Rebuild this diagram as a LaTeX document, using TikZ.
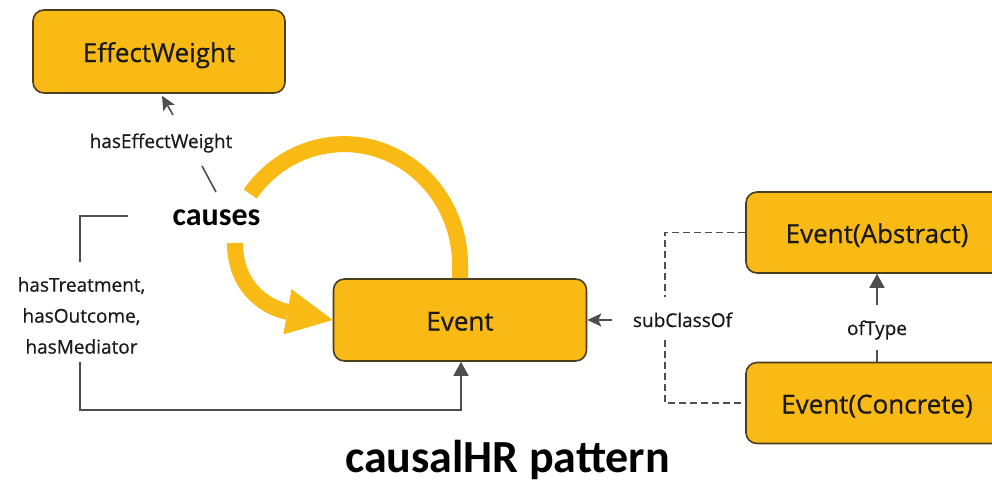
\documentclass[tikz,border=0pt]{standalone}
\usepackage{fontspec}
\setmainfont{Open Sans}
\newfontfamily\labelfont{Open Sans}[FakeBold=0.6]
\newfontfamily\headfont{Carlito}
\usetikzlibrary{arrows.meta,calc}

\definecolor{gold}{RGB}{250,186,22}
\definecolor{edgebrown}{RGB}{75,62,30}
\definecolor{linkgray}{RGB}{78,78,78}
\definecolor{ink}{RGB}{25,25,25}

\begin{document}
\begin{tikzpicture}[x=1pt,y=-1pt,
  concept/.style={draw=edgebrown, line width=1.6pt, fill=gold, rounded corners=11pt,
    inner sep=0pt, text=ink, text height=21pt, text depth=0pt,
    font=\labelfont\fontsize{26}{30}\selectfont},
  rel/.style={font=\labelfont\fontsize{19}{31}\selectfont, text=ink, inner sep=0pt},
  link/.style={draw=linkgray, line width=1.6pt},
  stealthtip/.style={-{Stealth[length=14pt,width=13pt,inset=3pt]}},
  tritip/.style={-{Triangle[length=14pt,width=15pt]}},
  flow/.style={draw=gold, line width=16pt},
]
\clip (0,0) rectangle (992,488);

% concept boxes
\node[concept, minimum width=252pt, minimum height=83pt] (ew) at (159,51.5) {EffectWeight};
\node[concept, minimum width=253pt, minimum height=82pt] (event) at (460,320) {Event};
\node[concept, minimum width=262pt, minimum height=81pt] (abs) at (877,232.5) {Event(Abstract)};
\node[concept, minimum width=262pt, minimum height=81pt] (con) at (877,403) {Event(Concrete)};

% relation labels
\node[font=\headfont\bfseries\fontsize{32}{36}\selectfont, text=black, anchor=base, inner sep=0pt]
  (causes) at (216.5,225) {causes};
\node[rel, anchor=base] (hew) at (161,148) {hasEffectWeight};
\node[rel, align=center] (hto) at (81.5,315.5) {hasTreatment,\\hasOutcome,\\hasMediator};
\node[rel, anchor=base] (sub) at (682.5,327) {subClassOf};
\node[rel, anchor=base] (oft) at (877,335) {ofType};
\node[font=\headfont\bfseries\fontsize{46}{50}\selectfont, text=black, anchor=base, inner sep=0pt]
  (title) at (507.5,472) {causalHR pattern};

% causes loop back into Event, and causes into Event
\coordinate (loopstart) at (250.2,194);
\draw[flow] (loopstart) arc[start angle=216, end angle=360, x radius=116, y radius=121]
  -- (event.north);
\coordinate (flowstart) at (235,243);
\draw[flow, -{Triangle[length=46pt,width=46pt,line width=0pt]}]
  (flowstart) .. controls (235,292) and (272,309) .. (event.west);

% hasEffectWeight
\coordinate (hewA) at (216,192);
\coordinate (hewB) at (202,166);
\coordinate (hewC) at (173,115);
\coordinate (hewD) at ($(ew.south)+(3,2)$);
\draw[link] (hewA) -- (hewB);
\draw[link, stealthtip] (hewC) -- (hewD);

% hasTreatment / hasOutcome / hasMediator
\coordinate (brA) at (128,216);
\coordinate (brB) at (80,262);
\coordinate (brC) at (80,362);
\draw[link] (brA) -| (brB);
\draw[link, tritip] (brC) |- ($(event.south)+(1,48)$) -- ($(event.south)+(1,0)$);

% subClassOf
\coordinate (subA) at (665,297);
\coordinate (subB) at (665,340);
\coordinate (subC) at (612,320);
\draw[link, dash pattern=on 7pt off 4pt] (abs.west) -| (subA);
\draw[link, dash pattern=on 7pt off 4pt] (subB) |- (con.west);
\draw[link, stealthtip] (subC) -- (event.east);

% ofType
\coordinate (ofA) at (877,350);
\coordinate (ofB) at (877,305);
\draw[link] (con.north) -- (ofA);
\draw[link, tritip] (ofB) -- (abs.south);
\end{tikzpicture}
\end{document}
